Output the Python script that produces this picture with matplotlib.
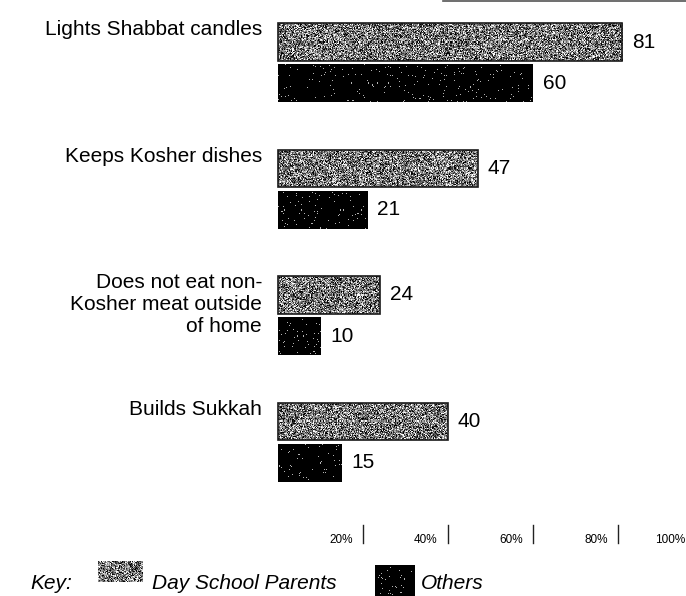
import numpy as np
import matplotlib
matplotlib.use('Agg')
import matplotlib.pyplot as plt
from matplotlib.patches import Rectangle
from matplotlib.lines import Line2D

plt.rcParams['font.family'] = ['Liberation Sans', 'DejaVu Sans']

# survey data (% of respondents)
categories = ['Lights Shabbat candles', 'Keeps Kosher dishes',
              'Does not eat non-\nKosher meat outside\nof home', 'Builds Sukkah']
day_school = [81, 47, 24, 40]
others = [60, 21, 10, 15]
tick_pcts = [20, 40, 60, 80, 100]
tick_labels = ['20%', '40%', '60%', '80%', '100%']
series_names = ['Day School Parents', 'Others']

W, H = 686, 596
PX_PER_PCT = 4.25
X0 = 278            # pixel where 0% sits
GROUP = 126.5       # pixel spacing between groups
Y0 = 42             # pixel centre of first grey bar
BAR_H = 0.30
OFFSET = 0.325
FS = 15

rng = np.random.default_rng(7)


def px_x(p):
    return (p - X0) / PX_PER_PCT


def px_y(p):
    return (p - Y0) / GROUP


def grey_tex(h, w):
    t = 0.47 + 0.33 * rng.standard_normal((h, w))
    return np.clip(t, 0, 1)


def black_tex(h, w):
    t = np.zeros((h, w))
    dots = rng.random((h, w)) < 0.022
    t[dots] = 0.7
    return t


def textured(ax, x, y, w, h, kind, edge=True):
    patch = Rectangle((x, y), w, h, facecolor='none',
                      edgecolor='#1a1a1a' if edge else 'none', lw=1.2, zorder=3)
    ax.add_patch(patch)
    hp = max(int(abs(h) * GROUP), 2)
    wp = max(int(abs(w) * PX_PER_PCT), 2)
    tex = grey_tex(hp, wp) if kind == 'grey' else black_tex(hp, wp)
    im = ax.imshow(tex, extent=(x, x + w, y + h, y), cmap='gray', vmin=0, vmax=1,
                   interpolation='nearest', aspect='auto', zorder=2)
    im.set_clip_path(patch)
    return patch


fig = plt.figure(figsize=(W / 100, H / 100), dpi=100)
ax = fig.add_axes([0, 0, 1, 1])

for i, cat in enumerate(categories):
    yg = i - BAR_H / 2
    yb = i + OFFSET - BAR_H / 2
    textured(ax, 0, yg, day_school[i], BAR_H, 'grey')
    textured(ax, 0, yb, others[i], BAR_H, 'black', edge=False)
    ax.text(day_school[i] + 2.3, i, str(day_school[i]), ha='left', va='center', fontsize=FS)
    ax.text(others[i] + 2.3, i + OFFSET, str(others[i]), ha='left', va='center', fontsize=FS)
    ax.text(px_x(262), yg - 3 / GROUP, cat, ha='right', va='top', fontsize=FS,
            linespacing=1.2)

# percentage scale at the bottom
tick_top, tick_bot = px_y(525), px_y(543)
for p, lab in zip(tick_pcts, tick_labels):
    ax.plot([p, p], [tick_top, tick_bot], color='#222222', lw=1.0)
    lx = min(p - 2.4, px_x(W - 1))
    ax.text(lx, px_y(543), lab, ha='right', va='baseline', fontsize=8.5)

# key
ax.text(px_x(30), px_y(589), 'Key:', ha='left', va='baseline', fontsize=FS, style='italic')
textured(ax, px_x(98), px_y(561), 45 / PX_PER_PCT, 21 / GROUP, 'grey', edge=False)
ax.text(px_x(152), px_y(589), series_names[0], ha='left', va='baseline', fontsize=FS,
        style='italic')
textured(ax, px_x(375), px_y(565), 40 / PX_PER_PCT, 32 / GROUP, 'black', edge=False)
ax.text(px_x(421), px_y(589), series_names[1], ha='left', va='baseline', fontsize=FS,
        style='italic')

ax.set_xlim(px_x(0), px_x(W))
ax.set_ylim(px_y(H), px_y(0))
ax.axis('off')

# rule left over along the top edge
fig.add_artist(Line2D([443 / W, 1], [1 - 0.8 / H, 1 - 0.8 / H], color='#555555', lw=1.2))

fig.savefig('out.png', dpi=100)
